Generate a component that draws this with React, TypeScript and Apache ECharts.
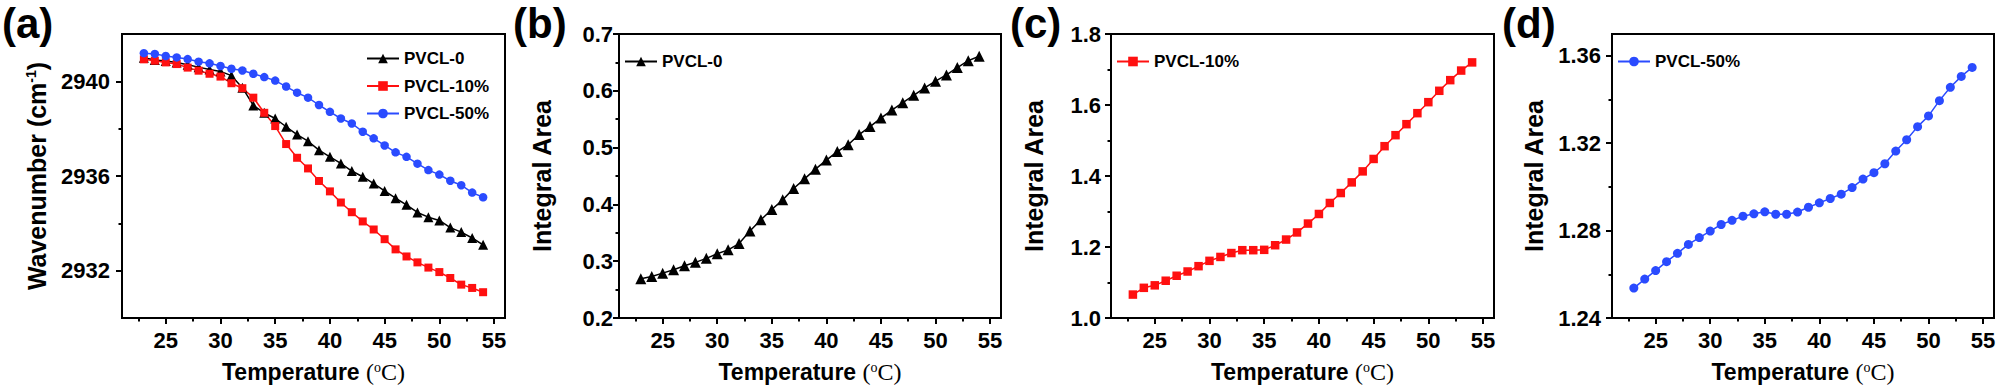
import React, { useEffect, useRef } from 'react';
import * as echarts from 'echarts';

const temperatures = [23, 24, 25, 26, 27, 28, 29, 30, 31, 32, 33, 34, 35, 36, 37, 38, 39, 40, 41, 42, 43, 44, 45, 46, 47, 48, 49, 50, 51, 52, 53, 54];

const wavePVCL0 = [2941.0, 2940.9, 2940.86, 2940.8, 2940.7, 2940.6, 2940.5, 2940.42, 2940.24, 2939.73, 2938.98, 2938.67, 2938.43, 2938.08, 2937.75, 2937.47, 2937.09, 2936.81, 2936.53, 2936.21, 2935.97, 2935.68, 2935.37, 2935.06, 2934.78, 2934.46, 2934.26, 2934.12, 2933.82, 2933.63, 2933.38, 2933.09];
const wavePVCL10 = [2940.93, 2940.87, 2940.8, 2940.73, 2940.58, 2940.45, 2940.32, 2940.2, 2939.92, 2939.71, 2939.31, 2938.67, 2938.11, 2937.35, 2936.77, 2936.32, 2935.79, 2935.35, 2934.88, 2934.47, 2934.08, 2933.74, 2933.33, 2932.9, 2932.6, 2932.35, 2932.13, 2931.94, 2931.69, 2931.41, 2931.27, 2931.09];
const wavePVCL50 = [2941.19, 2941.16, 2941.07, 2941.01, 2940.94, 2940.83, 2940.76, 2940.65, 2940.53, 2940.46, 2940.32, 2940.18, 2940.03, 2939.78, 2939.52, 2939.31, 2939.0, 2938.71, 2938.43, 2938.22, 2937.87, 2937.59, 2937.29, 2937.0, 2936.81, 2936.52, 2936.25, 2936.06, 2935.8, 2935.61, 2935.3, 2935.1];

const areaPVCL0 = [0.269, 0.273, 0.279, 0.285, 0.292, 0.298, 0.305, 0.313, 0.32, 0.331, 0.353, 0.373, 0.391, 0.408, 0.428, 0.445, 0.462, 0.478, 0.493, 0.505, 0.523, 0.537, 0.552, 0.566, 0.579, 0.592, 0.605, 0.617, 0.628, 0.641, 0.653, 0.661];
const areaPVCL10 = [1.066, 1.085, 1.092, 1.105, 1.119, 1.131, 1.146, 1.161, 1.172, 1.183, 1.191, 1.191, 1.192, 1.205, 1.221, 1.241, 1.266, 1.293, 1.324, 1.352, 1.382, 1.413, 1.448, 1.484, 1.515, 1.546, 1.577, 1.608, 1.64, 1.67, 1.697, 1.72];
const areaPVCL50 = [1.2537, 1.2578, 1.2617, 1.2658, 1.2696, 1.2737, 1.2768, 1.2798, 1.2828, 1.2847, 1.2866, 1.2877, 1.2886, 1.2875, 1.2875, 1.2885, 1.2907, 1.2927, 1.2947, 1.2967, 1.2997, 1.3036, 1.3065, 1.3106, 1.3164, 1.3216, 1.3276, 1.3325, 1.3395, 1.3456, 1.3506, 1.3547];

const xMajorTicks = [25, 30, 35, 40, 45, 50, 55];
const xMinorTicks = [22.5, 27.5, 32.5, 37.5, 42.5, 47.5, 52.5];
const yTicksA = [2932, 2936, 2940];
const yMinorA = [2934, 2938];
const yTicksB = [0.2, 0.3, 0.4, 0.5, 0.6, 0.7];
const yMinorB = [0.25, 0.35, 0.45, 0.55, 0.65];
const yTicksC = [1.0, 1.2, 1.4, 1.6, 1.8];
const yMinorC = [1.1, 1.3, 1.5, 1.7];
const yTicksD = [1.24, 1.28, 1.32, 1.36];
const yMinorD = [1.26, 1.3, 1.34];

const seriesNames = ['PVCL-0', 'PVCL-10%', 'PVCL-50%'];
const panelLetters = ['(a)', '(b)', '(c)', '(d)'];

const F = '"Liberation Sans", Arial, sans-serif';
const SERIF = '"Liberation Serif", "Times New Roman", serif';
const BLACK = '#000000';
const RED = '#ff1010';
const BLUE = '#2a4bff';

const panels = [
  { left: 122, width: 383, yMin: 2930, yMax: 2942, ticks: yTicksA, minor: yMinorA, dec: 0, labelMargin: 12, nameGap: 72, yName: 'a', labelX: 2, legendLeft: 366, legendTop: 50 },
  { left: 619, width: 382, yMin: 0.2, yMax: 0.7, ticks: yTicksB, minor: yMinorB, dec: 1, labelMargin: 6, nameGap: 65, yName: 'i', labelX: 513, legendLeft: 624, legendTop: 53 },
  { left: 1111, width: 383, yMin: 1.0, yMax: 1.8, ticks: yTicksC, minor: yMinorC, dec: 1, labelMargin: 10, nameGap: 65, yName: 'i', labelX: 1010, legendLeft: 1116, legendTop: 53 },
  { left: 1612, width: 382, yMin: 1.24, yMax: 1.37, ticks: yTicksD, minor: yMinorD, dec: 2, labelMargin: 11, nameGap: 66, yName: 'i', labelX: 1502, legendLeft: 1617, legendTop: 53 },
];

const TOP = 34;
const HEIGHT = 284;

export default function App() {
  const ref = useRef<HTMLDivElement>(null);
  useEffect(() => {
    if (!ref.current) return;
    const chart = echarts.init(ref.current, undefined, { renderer: 'svg' });

    const tickStyle = { color: BLACK, width: 2 };
    const grids: any[] = [];
    const xAxes: any[] = [];
    const yAxes: any[] = [];
    const legends: any[] = [];
    const graphics: any[] = [];

    panels.forEach((p, i) => {
      grids.push({
        left: p.left, top: TOP, width: p.width, height: HEIGHT,
        show: true, borderColor: BLACK, borderWidth: 2, backgroundColor: 'transparent',
        containLabel: false, outerBoundsMode: 'none',
      });
      xAxes.push({
        type: 'value', gridIndex: i, min: 21, max: 56, position: 'bottom',
        axisLine: { show: true, onZero: false, lineStyle: { color: BLACK, width: 2 } },
        axisTick: { show: true, customValues: xMajorTicks, length: 6, inside: false, lineStyle: tickStyle },
        axisLabel: { customValues: xMajorTicks, fontSize: 22, fontWeight: 'bold', color: BLACK, fontFamily: F, margin: 11 },
        splitLine: { show: false },
        name: '{b|Temperature }{s|(}{sup|o}{s|C)}',
        nameLocation: 'middle', nameGap: 42,
        nameTextStyle: {
          rich: {
            b: { fontSize: 23, fontWeight: 'bold', fontFamily: F, color: BLACK },
            s: { fontSize: 24, fontFamily: SERIF, color: BLACK },
            sup: { fontSize: 14, fontFamily: SERIF, color: BLACK, verticalAlign: 'top', padding: [0, 0, 10, 0] },
          },
        },
      });
      xAxes.push({
        type: 'value', gridIndex: i, min: 21, max: 56, position: 'bottom',
        axisLine: { show: false, onZero: false },
        axisTick: { show: true, customValues: xMinorTicks, length: 3.5, inside: false, lineStyle: tickStyle },
        axisLabel: { show: false },
        splitLine: { show: false },
      });
      const yNameStr = p.yName === 'a' ? '{b|Wavenumber (cm}{sup|-1}{b|)}' : '{b|Integral Area}';
      yAxes.push({
        type: 'value', gridIndex: i, min: p.yMin, max: p.yMax, position: 'left',
        axisLine: { show: true, onZero: false, lineStyle: { color: BLACK, width: 2 } },
        axisTick: { show: true, customValues: p.ticks, length: 6, inside: false, lineStyle: tickStyle },
        axisLabel: {
          customValues: p.ticks, fontSize: 22, fontWeight: 'bold', color: BLACK, fontFamily: F, margin: p.labelMargin,
          formatter: (v: number) => v.toFixed(p.dec),
        },
        splitLine: { show: false },
        name: yNameStr, nameLocation: 'middle', nameGap: p.nameGap, nameRotate: 90,
        nameTextStyle: {
          rich: {
            b: { fontSize: 25, fontWeight: 'bold', fontFamily: F, color: BLACK },
            sup: { fontSize: 14, fontWeight: 'bold', fontFamily: F, color: BLACK, verticalAlign: 'top', padding: [0, 0, 12, 0] },
          },
        },
      });
      yAxes.push({
        type: 'value', gridIndex: i, min: p.yMin, max: p.yMax, position: 'left',
        axisLine: { show: false, onZero: false },
        axisTick: { show: true, customValues: p.minor, length: 3.5, inside: false, lineStyle: tickStyle },
        axisLabel: { show: false },
        splitLine: { show: false },
      });
      graphics.push({
        type: 'text', x: p.labelX, y: 2,
        style: { text: panelLetters[i], fontSize: 42, fontWeight: 'bold', fontFamily: F, fill: BLACK },
      });
    });

    const legendBase = {
      orient: 'vertical', itemWidth: 32, itemHeight: 12, itemGap: 10.5, padding: 0,
      textStyle: { fontSize: 17, fontWeight: 'bold', fontFamily: F, color: BLACK },
    };
    legends.push({ ...legendBase, left: panels[0].legendLeft, top: panels[0].legendTop, data: seriesNames });
    legends.push({ ...legendBase, left: panels[1].legendLeft, top: panels[1].legendTop, data: [seriesNames[0]] });
    legends.push({ ...legendBase, left: panels[2].legendLeft, top: panels[2].legendTop, data: [seriesNames[1]] });
    legends.push({ ...legendBase, left: panels[3].legendLeft, top: panels[3].legendTop, data: [seriesNames[2]] });

    const mk = (name: string, vals: number[], panel: number, color: string, symbol: string, size: number) => ({
      type: 'line', name,
      xAxisIndex: panel * 2, yAxisIndex: panel * 2,
      data: temperatures.map((t, k) => [t, vals[k]]),
      symbol, symbolSize: size, showSymbol: true,
      lineStyle: { color, width: 1.5 },
      itemStyle: { color, borderWidth: 0 },
      emphasis: { disabled: true },
    });

    const series = [
      mk(seriesNames[0], wavePVCL0, 0, BLACK, 'triangle', 10),
      mk(seriesNames[1], wavePVCL10, 0, RED, 'rect', 8),
      mk(seriesNames[2], wavePVCL50, 0, BLUE, 'circle', 8.5),
      mk(seriesNames[0], areaPVCL0, 1, BLACK, 'triangle', 11),
      mk(seriesNames[1], areaPVCL10, 2, RED, 'rect', 8.5),
      mk(seriesNames[2], areaPVCL50, 3, BLUE, 'circle', 9),
    ];

    chart.setOption({
      animation: false,
      backgroundColor: '#ffffff',
      grid: grids,
      xAxis: xAxes,
      yAxis: yAxes,
      legend: legends,
      graphic: graphics,
      series,
    });
    return () => chart.dispose();
  }, []);
  return <div ref={ref} style={{ position: 'absolute', left: 0, top: 0, width: 2000, height: 388 }} />;
}
